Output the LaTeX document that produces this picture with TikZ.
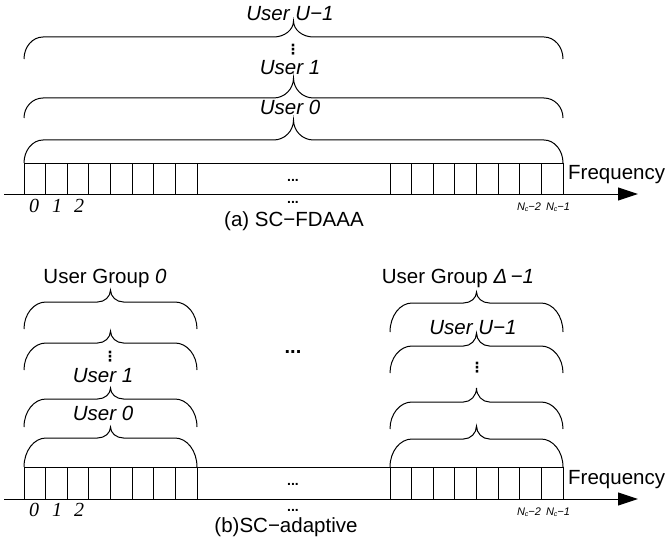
\documentclass[tikz,border=0pt]{standalone}
\usepackage{fontspec}
\setmainfont{Liberation Sans}
\newfontfamily\idxfont{Liberation Serif}
\newfontfamily\symfont{DejaVu Sans}
\usetikzlibrary{arrows.meta}

\newcommand{\mybrace}[7]{%
 \draw[bracestyle] (#1,#3) .. controls (#1,{#3+0.552*(#4-#3)}) and ({#1+0.448*#6},#4) .. ({#1+#6},#4)
 -- ({(#1+#2)/2-#7},#4) .. controls ({(#1+#2)/2-0.448*#7},#4) and ({(#1+#2)/2},{#5+0.552*(#4-#5)}) .. ({(#1+#2)/2},#5)
 .. controls ({(#1+#2)/2},{#5+0.552*(#4-#5)}) and ({(#1+#2)/2+0.448*#7},#4) .. ({(#1+#2)/2+#7},#4)
 -- ({#2-#6},#4) .. controls ({#2-0.448*#6},#4) and (#2,{#3+0.552*(#4-#3)}) .. (#2,#3);}

\tikzset{
  bracestyle/.style={line width=1pt},
  cellline/.style={line width=1pt},
  lbl/.style={font=\fontsize{20.5}{24}\selectfont, inner sep=0pt},
  ulbl/.style={font=\fontsize{20.5}{24}\selectfont\itshape, inner sep=0pt},
  idx/.style={font=\fontsize{20}{24}\selectfont\idxfont\itshape, inner sep=0pt},
  nlbl/.style={font=\fontsize{11}{12}\selectfont\itshape, inner sep=0pt},
  dots/.style={font=\fontsize{14}{14}\selectfont\bfseries, inner sep=0pt},
  bigdots/.style={font=\fontsize{20}{20}\selectfont\bfseries, inner sep=0pt},
  vdotsnode/.style={inner sep=0pt, font=\fontsize{14}{14}\selectfont\symfont\bfseries, text height=9pt, text depth=0pt},
  axis/.style={line width=1pt, -{Triangle[length=20pt,width=13pt]}}
}

\begin{document}
\begin{tikzpicture}[x=1pt,y=-1pt]
\useasboundingbox (0,0) rectangle (668,548);

% ================= (a) SC-FDAAA =================
\coordinate (a0) at (4,194);
\coordinate (a1) at (638,194);
\draw[axis] (a0) -- (a1);
\draw[cellline] (24,163) rectangle (563,194);
\foreach \i in {1,...,8} \draw[cellline] ({24+\i*21.625},163) -- ({24+\i*21.625},194);
\foreach \i in {0,...,7} \draw[cellline] ({390+\i*21.625},163) -- ({390+\i*21.625},194);

\mybrace{24}{563}{163}{140}{120}{19}{20}
\mybrace{24}{563}{118}{98}{78}{19}{20}
\mybrace{24}{563}{59}{37}{21}{19}{20}

\node[ulbl] (au0) at (290,107) {User 0};
\node[ulbl] (au1) at (290,68) {User 1};
\node[vdotsnode] (avd) at (293,50) {⋮};
\node[ulbl] (auu) at (290,14) {User U−1};
\node[dots] (abd) at (293,180) {...};
\node[dots] (aud) at (293,202) {...};
\node[lbl, anchor=west] (afreq) at (568,175) {Frequency};
\node[idx] (ai0) at (34,206) {0};
\node[idx] (ai1) at (57,206) {1};
\node[idx] (ai2) at (79,206) {2};
\node[nlbl] (ain2) at (529,207) {N\raisebox{-0.25ex}{\fontsize{7}{7}\selectfont c}−2};
\node[nlbl] (ain1) at (558,207) {N\raisebox{-0.25ex}{\fontsize{7}{7}\selectfont c}−1};
\node[lbl] (acap) at (294,221) {(a) SC−FDAAA};

% ================= (b) SC-adaptive =================
\coordinate (b0) at (4,499);
\coordinate (b1) at (638,499);
\draw[axis] (b0) -- (b1);
\draw[cellline] (24,467) rectangle (563,499);
\foreach \i in {1,...,8} \draw[cellline] ({24+\i*21.625},467) -- ({24+\i*21.625},499);
\foreach \i in {0,...,7} \draw[cellline] ({390+\i*21.625},467) -- ({390+\i*21.625},499);

% left group braces
\mybrace{24}{197}{329}{302}{290}{22}{13}
\mybrace{24}{197}{370}{343}{331}{22}{13}
\mybrace{24}{197}{427}{399}{388}{22}{13}
\mybrace{24}{197}{467}{438}{427}{22}{13}
% right group braces
\mybrace{390}{563}{332}{303}{292}{22}{13}
\mybrace{390}{563}{373}{346}{333}{22}{13}
\mybrace{390}{563}{429}{402}{388}{22}{13}
\mybrace{390}{563}{467}{439}{426}{22}{13}

\node[lbl] (bg0) at (105,278) {User Group \textit{0}};
\node[lbl] (bgd) at (458,278) {User Group \textit{Δ\,−1}};
\node[vdotsnode] (bvl) at (110,357) {⋮};
\node[ulbl] (bu1) at (103,376) {User 1};
\node[ulbl] (bu0) at (103,413) {User 0};
\node[ulbl] (buu) at (473,328) {User U−1};
\node[vdotsnode] (bvr) at (477,368) {⋮};
\node[bigdots] (bmid) at (293,352) {...};
\node[dots] (bbd) at (293,484) {...};
\node[dots] (bud) at (293,510) {...};
\node[lbl, anchor=west] (bfreq) at (568,480) {Frequency};
\node[idx] (bi0) at (34,510) {0};
\node[idx] (bi1) at (57,510) {1};
\node[idx] (bi2) at (79,510) {2};
\node[nlbl] (bin2) at (529,512) {N\raisebox{-0.25ex}{\fontsize{7}{7}\selectfont c}−2};
\node[nlbl] (bin1) at (558,512) {N\raisebox{-0.25ex}{\fontsize{7}{7}\selectfont c}−1};
\node[lbl] (bcap) at (286,527) {(b)SC−adaptive};
\end{tikzpicture}
\end{document}
